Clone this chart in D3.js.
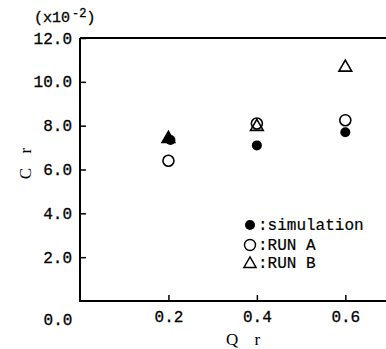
<!DOCTYPE html>
<html><head><meta charset="utf-8">
<script src="https://cdn.jsdelivr.net/npm/d3@7"></script>
<style>body{margin:0;background:#fff;}svg{display:block;}</style>
</head><body>
<script>
const qr = [0.2, 0.4, 0.6];
const simulation = [7.35, 7.1, 7.7];
const runA = [6.4, 8.1, 8.25];
const runB = [7.45, 8.0, 10.7];
const yTicks = [2, 4, 6, 8, 10, 12];
const xTicks = [0.2, 0.4, 0.6];
const yTickLabels = ["2.0", "4.0", "6.0", "8.0", "10.0", "12.0"];
const xTickLabels = ["0.2", "0.4", "0.6"];
const legendLabels = [":simulation", ":RUN A", ":RUN B"];

const W = 386, H = 349;
const svg = d3.select("body").append("svg").attr("width", W).attr("height", H);
const font = "'Liberation Mono', 'DejaVu Sans Mono', monospace";
const x = d3.scaleLinear().domain([0, 0.692]).range([80, 386]);
const y = d3.scaleLinear().domain([0, 12]).range([301, 38]);

// axes lines
svg.append("path").attr("d", `M${x(0)},${y(12)}V${y(0)}H${W}`).attr("fill", "none").attr("stroke", "#000").attr("stroke-width", 2);
svg.append("line").attr("x1", x(0)).attr("x2", W).attr("y1", y(12)).attr("y2", y(12)).attr("stroke", "#000").attr("stroke-width", 2);

// y ticks
const yAxis = d3.axisLeft(y).tickValues(yTicks).tickSize(-6).tickPadding(8)
  .tickFormat((d, i) => yTickLabels[i]);
const gy = svg.append("g").attr("transform", `translate(${x(0)},0)`).call(yAxis);
gy.select(".domain").remove();
gy.selectAll("line").attr("stroke-width", 1.5);
gy.selectAll("text").attr("font-family", font).attr("font-size", 16).attr("fill", "#000")
  .attr("stroke", "#000").attr("stroke-width", 0.3);

// x ticks
const xAxis = d3.axisBottom(x).tickValues(xTicks).tickSize(-6).tickPadding(10)
  .tickFormat((d, i) => xTickLabels[i]);
const gx = svg.append("g").attr("transform", `translate(0,${y(0)})`).call(xAxis);
gx.select(".domain").remove();
gx.selectAll("line").attr("stroke-width", 1.5);
gx.selectAll("text").attr("font-family", font).attr("font-size", 16).attr("fill", "#000")
  .attr("stroke", "#000").attr("stroke-width", 0.3);

// origin label
svg.append("text").attr("x", 58).attr("y", 325).attr("text-anchor", "middle")
  .attr("font-family", font).attr("font-size", 16).attr("stroke", "#000").attr("stroke-width", 0.3).text("0.0");

// axis titles
svg.append("text").attr("x", 246).attr("y", 345).attr("text-anchor", "middle")
  .attr("font-family", "'Liberation Serif', serif").attr("font-size", 17).attr("letter-spacing", 6).text("Q r");
svg.append("text").attr("transform", "translate(31,161) rotate(-90)").attr("text-anchor", "middle")
  .attr("font-family", "'Liberation Serif', serif").attr("font-size", 17).attr("letter-spacing", 5).text("C r");
const unit = svg.append("text").attr("x", 34).attr("y", 22).attr("font-family", font).attr("font-size", 15)
  .attr("stroke", "#000").attr("stroke-width", 0.3);
unit.append("tspan").text("(x10");
unit.append("tspan").attr("dy", -5).attr("font-size", 12).attr("dx", 2).text("-2");
unit.append("tspan").attr("dy", 5).text(")");

const tri = d3.symbol().type(d3.symbolTriangle).size(70);

// RUN B triangles
svg.selectAll(".b").data(qr).enter().append("path")
  .attr("d", tri).attr("transform", (d, i) => `translate(${x(d)},${y(runB[i]) + 1})`)
  .attr("fill", "#fff").attr("stroke", "#000").attr("stroke-width", 1.6);
// RUN A circles
svg.selectAll(".a").data(qr).enter().append("circle")
  .attr("cx", d => x(d)).attr("cy", (d, i) => y(runA[i])).attr("r", 5.5)
  .attr("fill", "none").attr("stroke", "#000").attr("stroke-width", 1.6);
// simulation dots
svg.selectAll(".s").data(qr).enter().append("circle")
  .attr("cx", (d, i) => x(d) + (i === 0 ? 2 : 0)).attr("cy", (d, i) => y(simulation[i])).attr("r", 5)
  .attr("fill", "#000");
// fill triangle at 0.2 (overlapped by dot)
svg.append("path").attr("d", tri).attr("transform", `translate(${x(qr[0])},${y(runB[0]) + 1})`).attr("fill", "#000");

// legend
const lg = svg.append("g");
const lx = 250, ly = [225, 245, 263];
lg.append("circle").attr("cx", lx).attr("cy", ly[0]).attr("r", 5).attr("fill", "#000");
lg.append("circle").attr("cx", lx).attr("cy", ly[1]).attr("r", 5.5).attr("fill", "none").attr("stroke", "#000").attr("stroke-width", 1.4);
lg.append("path").attr("d", d3.symbol().type(d3.symbolTriangle).size(65)).attr("transform", `translate(${lx},${ly[2] + 1})`)
  .attr("fill", "none").attr("stroke", "#000").attr("stroke-width", 1.4);
lg.selectAll("text").data(legendLabels).enter().append("text")
  .attr("x", lx + 8).attr("y", (d, i) => ly[i] + 5).attr("font-family", font).attr("font-size", 16)
  .attr("stroke", "#000").attr("stroke-width", 0.2)
  .text(d => d);
</script>
</body></html>
